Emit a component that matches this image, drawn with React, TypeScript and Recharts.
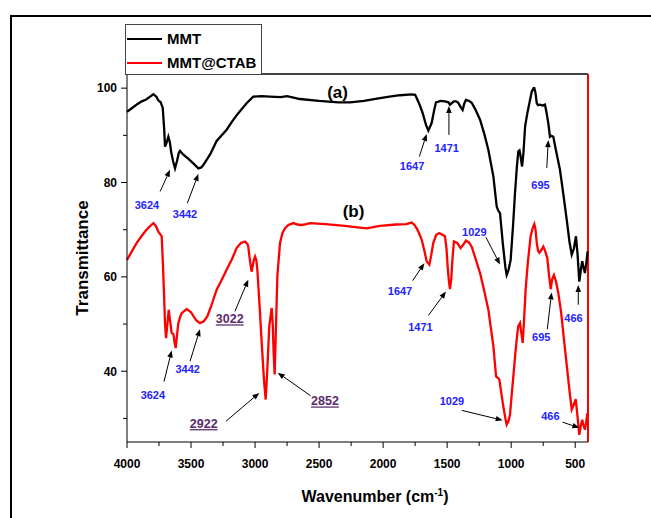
import React from "react";
import {
  LineChart,
  Line,
  XAxis,
  YAxis,
  ReferenceLine,
  ReferenceDot,
} from "recharts";

// MMT spectrum (black)
const mmtWave = [
  4000, 3960, 3920, 3885, 3850, 3820, 3794, 3770, 3755, 3737, 3721, 3710, 3703,
  3690, 3677, 3665, 3656, 3640, 3625, 3610, 3595, 3586, 3560, 3520, 3480, 3443,
  3420, 3404, 3350, 3300, 3222, 3180, 3131, 3066, 3014, 2950, 2884, 2800, 2750,
  2700, 2649, 2500, 2350, 2258, 2150, 2024, 1950, 1868, 1777, 1750, 1738, 1715,
  1691, 1665, 1647, 1621, 1600, 1587, 1550, 1517, 1490, 1478, 1465, 1447, 1430,
  1413, 1395, 1379, 1365, 1353, 1330, 1308, 1280, 1243, 1210, 1178, 1139, 1113,
  1100, 1087, 1065, 1045, 1035, 1020, 1004, 985, 970, 955, 944, 935, 926, 915,
  905, 891, 875, 858, 839, 825, 819, 810, 800, 790, 775, 755, 736, 725, 710, 697,
  685, 671, 650, 619, 595, 566, 545, 527, 510, 494, 482, 468, 456, 445, 435, 424,
  413, 403,
];
const mmtT = [
  95.0, 95.8, 96.6, 97.2, 97.6, 98.2, 98.7, 98.2, 97.4, 97.0, 95.8, 91.5, 87.6,
  88.5, 89.7, 88.5, 86.6, 84.5, 83.0, 84.5, 86.3, 86.7, 85.9, 85.0, 84.0, 83.0,
  83.2, 83.7, 86.0, 88.8, 91.2, 92.9, 94.7, 96.8, 98.2, 98.3, 98.2, 98.1, 98.3,
  98.0, 97.7, 97.3, 97.0, 97.0, 97.3, 97.9, 98.2, 98.5, 98.7, 98.6, 97.9, 96.5,
  94.7, 92.2, 91.0, 92.6, 95.5, 97.0, 97.3, 97.2, 97.0, 96.5, 96.8, 97.2, 97.2,
  96.9, 96.0, 95.4, 96.8, 97.5, 97.3, 96.9, 95.5, 93.3, 90.3, 86.9, 81.3, 74.9,
  74.0, 73.5, 67.0, 62.0, 60.4, 61.5, 63.6, 71.0, 77.8, 83.5, 86.6, 86.8, 85.5,
  83.4, 86.0, 91.9, 94.5, 96.8, 99.3, 100.0, 100.0, 99.0, 96.8, 96.4, 96.5,
  96.3, 96.5, 95.0, 92.6, 89.7, 89.9, 89.7, 86.8, 82.7, 78.0, 72.1, 67.5, 64.7,
  66.0, 68.6, 65.0, 59.0, 61.5, 63.3, 62.0, 60.8, 63.0, 65.4,
];

// MMT@CTAB spectrum (red)
const ctabWave = [
  4000, 3960, 3924, 3890, 3859, 3830, 3810, 3794, 3775, 3755, 3729, 3720, 3711,
  3703, 3695, 3685, 3674, 3665, 3651, 3638, 3628, 3620, 3610, 3599, 3585, 3573,
  3534, 3500, 3460, 3430, 3400, 3373, 3340, 3300, 3260, 3222, 3180, 3144, 3110,
  3079, 3060, 3053, 3040, 3027, 3010, 3000, 2990, 2982, 2965, 2948, 2930, 2917,
  2905, 2889, 2870, 2862, 2855, 2847, 2836, 2826, 2805, 2786, 2766, 2740, 2701,
  2670, 2636, 2600, 2571, 2450, 2300, 2200, 2128, 2024, 1900, 1820, 1777, 1755,
  1738, 1720, 1699, 1680, 1660, 1639, 1625, 1608, 1585, 1561, 1535, 1517, 1505,
  1496, 1486, 1478, 1468, 1459, 1447, 1421, 1395, 1375, 1353, 1330, 1308, 1280,
  1243, 1210, 1178, 1139, 1118, 1100, 1092, 1075, 1061, 1045, 1035, 1020, 1009,
  996, 983, 970, 957, 945, 931, 920, 910, 900, 887, 870, 848, 830, 819, 810, 800,
  790, 780, 762, 749, 735, 718, 705, 691, 680, 666, 650, 632, 610, 593, 562, 545,
  527, 510, 496, 482, 468, 456, 445, 435, 424, 415, 405,
];
const ctabT = [
  63.6, 65.5, 67.2, 68.5, 69.6, 70.5, 71.0, 71.4, 70.8, 69.6, 68.6, 63.0, 56.6,
  50.0, 47.0, 50.0, 53.0, 51.0, 48.1, 47.9, 46.0, 44.9, 47.5, 50.2, 51.5, 52.3,
  53.2, 52.5, 50.8, 50.2, 50.6, 51.6, 54.0, 57.3, 59.4, 61.5, 63.8, 66.1, 67.2,
  67.5, 67.0, 66.4, 63.5, 61.1, 63.5, 64.3, 63.5, 61.5, 54.0, 46.0, 38.0, 34.0,
  40.0, 49.5, 53.4, 50.0, 44.0, 39.3, 50.0, 60.1, 67.2, 69.3, 70.3, 71.0, 71.4,
  71.1, 71.0, 71.2, 71.4, 71.2, 70.8, 70.5, 70.3, 70.8, 71.1, 71.2, 71.5, 71.0,
  70.3, 69.3, 67.9, 65.8, 63.3, 62.6, 64.5, 67.2, 68.9, 69.3, 68.9, 68.6, 66.0,
  62.2, 59.0, 57.4, 59.5, 63.6, 67.5, 67.2, 66.1, 66.8, 67.7, 67.3, 66.4, 64.0,
  60.8, 57.0, 53.0, 45.3, 38.9, 38.5, 38.2, 35.0, 32.5, 30.0, 28.7, 29.5, 30.8,
  35.0, 38.9, 43.0, 46.7, 49.5, 50.2, 48.0, 46.0, 50.5, 57.3, 63.0, 68.6, 70.5,
  71.2, 70.0, 67.2, 65.5, 65.1, 65.8, 66.4, 65.5, 64.0, 60.5, 57.4, 59.5, 60.4,
  59.0, 56.6, 52.5, 48.1, 40.3, 36.0, 31.9, 33.0, 34.1, 30.5, 26.5, 28.5, 29.7,
  28.5, 27.6, 29.0, 31.1,
];

const xTicks = [4000, 3750, 3500, 3250, 3000, 2750, 2500, 2250, 2000, 1750, 1500, 1250, 1000, 750, 500];
const yTicks = [30, 40, 50, 60, 70, 80, 90, 100];

// peak labels: [wavenumber, transmittance, text]
const blueLabels: [number, number, string][] = [
  [3844, 75.3, "3624"],
  [3547, 73.3, "3442"],
  [1774, 83.4, "1647"],
  [1503, 87.4, "1471"],
  [771, 79.4, "695"],
  [1288, 69.6, "1029"],
  [513, 51.3, "466"],
  [3798, 35.0, "3624"],
  [3526, 40.4, "3442"],
  [1868, 56.9, "1647"],
  [1708, 49.3, "1471"],
  [765, 47.2, "695"],
  [1462, 33.7, "1029"],
  [694, 30.6, "466"],
];
const purpleLabels: [number, number, string][] = [
  [3198, 51.1, "3022"],
  [3401, 28.9, "2922"],
  [2454, 33.7, "2852"],
];
const curveLabels: [number, number, string][] = [
  [2356, 99.2, "(a)"],
  [2231, 73.9, "(b)"],
];
// arrows: [w1, t1, w2, t2] (tip at second point)
const arrows: [number, number, number, number][] = [
  [3741, 78.1, 3664, 82.7],
  [3529, 75.6, 3443, 81.8],
  [1717, 85.5, 1660, 90.3],
  [1486, 90.1, 1486, 96.2],
  [722, 83.1, 710, 89.0],
  [1197, 68.4, 1087, 62.6],
  [476, 54.1, 476, 58.3],
  [3711, 37.8, 3651, 44.4],
  [3508, 42.1, 3430, 48.9],
  [3157, 52.7, 3053, 59.4],
  [3227, 29.4, 2967, 35.4],
  [2566, 34.8, 2823, 39.7],
  [1769, 59.2, 1678, 62.9],
  [1647, 51.8, 1509, 56.9],
  [718, 48.9, 684, 56.7],
  [1386, 31.7, 1066, 29.6],
  [598, 29.2, 468, 28.0],
];

const mmtData = mmtWave.map((w, i) => ({ w, t: mmtT[i] }));
const ctabData = ctabWave.map((w, i) => ({ w, t: ctabT[i] }));

const FONT = "'Liberation Sans', Arial, sans-serif";

const XTick = (p: any) => {
  const v = p.payload.value;
  const major = v % 500 === 0;
  return (
    <g>
      <line x1={p.x} y1={p.y} x2={p.x} y2={p.y + (major ? 6 : 4)} stroke="#000" strokeWidth={1} />
      {major && (
        <text x={p.x} y={p.y + 26} textAnchor="middle" fontFamily={FONT} fontWeight="bold" fontSize={12} fill="#000">
          {v}
        </text>
      )}
    </g>
  );
};

const YTick = (p: any) => {
  const v = p.payload.value;
  const major = v % 20 === 0;
  return (
    <g>
      <line x1={p.x} y1={p.y} x2={p.x - (major ? 6 : 4)} y2={p.y} stroke="#000" strokeWidth={1} />
      {major && (
        <text x={p.x - 10} y={p.y} dy="0.36em" textAnchor="end" fontFamily={FONT} fontWeight="bold" fontSize={12} fill="#000">
          {v}
        </text>
      )}
    </g>
  );
};

const textShape = (text: string, color: string, size: number, underline = false) => (p: any) =>
  (
    <text
      x={p.cx}
      y={p.cy}
      dy="0.36em"
      textAnchor="middle"
      fontFamily={FONT}
      fontWeight="bold"
      fontSize={size}
      fill={color}
      textDecoration={underline ? "underline" : undefined}
    >
      {text}
    </text>
  );

const ArrowShape = (p: any) => {
  const { x1, y1, x2, y2 } = p;
  const a = Math.atan2(y2 - y1, x2 - x1);
  const L = 7;
  const W = 2.8;
  const bx = x2 - L * Math.cos(a);
  const by = y2 - L * Math.sin(a);
  const pts = `${x2},${y2} ${bx + W * Math.sin(a)},${by - W * Math.cos(a)} ${bx - W * Math.sin(a)},${by + W * Math.cos(a)}`;
  return (
    <g>
      <line x1={x1} y1={y1} x2={bx} y2={by} stroke="#000" strokeWidth={1} />
      <polygon points={pts} fill="#000" />
    </g>
  );
};

export default function App() {
  return (
    <div
      style={{
        position: "absolute",
        left: 0,
        top: 0,
        width: 651,
        height: 518,
        overflow: "hidden",
        background: "#fff",
        fontFamily: FONT,
      }}
    >
      <div
        style={{
          position: "absolute",
          left: 10,
          top: 15,
          width: 700,
          height: 600,
          border: "2px solid #000",
        }}
      />
      <div style={{ position: "absolute", left: 0, top: 0 }}>
        <LineChart width={651} height={518} margin={{ top: 74, right: 63, bottom: 46, left: 67 }}>
          <XAxis
            dataKey="w"
            type="number"
            domain={[400, 4000]}
            reversed
            ticks={xTicks}
            interval={0}
            tickSize={0}
            tickMargin={0}
            tickLine={false}
            tick={<XTick />}
            height={30}
            axisLine={{ stroke: "#000", strokeWidth: 1 }}
          />
          <YAxis
            type="number"
            domain={[25, 103]}
            ticks={yTicks}
            interval={0}
            tickSize={0}
            tickMargin={0}
            tickLine={false}
            tick={<YTick />}
            width={60}
            axisLine={{ stroke: "#000", strokeWidth: 1 }}
          />
          <ReferenceLine y={103} stroke="#000" strokeWidth={1.5} />
          <ReferenceLine x={400} stroke="#ff0000" strokeWidth={2} />
          <Line
            data={mmtData}
            dataKey="t"
            type="linear"
            stroke="#000000"
            strokeWidth={2.3}
            dot={false}
            activeDot={false}
            isAnimationActive={false}
          />
          <Line
            data={ctabData}
            dataKey="t"
            type="linear"
            stroke="#ff0000"
            strokeWidth={2.3}
            dot={false}
            activeDot={false}
            isAnimationActive={false}
          />
          {arrows.map(([w1, t1, w2, t2], i) => (
            <ReferenceLine
              key={"ar" + i}
              segment={[
                { x: w1, y: t1 },
                { x: w2, y: t2 },
              ]}
              shape={ArrowShape}
            />
          ))}
          {blueLabels.map(([w, t, s], i) => (
            <ReferenceDot key={"bl" + i} x={w} y={t} r={0} shape={textShape(s, "#2323ff", 11)} />
          ))}
          {purpleLabels.map(([w, t, s], i) => (
            <ReferenceDot key={"pl" + i} x={w} y={t} r={0} shape={textShape(s, "#5b2a6e", 12.5, true)} />
          ))}
          {curveLabels.map(([w, t, s], i) => (
            <ReferenceDot key={"cl" + i} x={w} y={t} r={0} shape={textShape(s, "#000", 17)} />
          ))}
        </LineChart>
      </div>

      {/* legend */}
      <div
        style={{
          position: "absolute",
          left: 125,
          top: 24,
          width: 135,
          height: 49,
          border: "1px solid #444",
          background: "#fff",
        }}
      >
        {[
          ["MMT", "#000"],
          ["MMT@CTAB", "#ff0000"],
        ].map(([name, color], i) => (
          <div key={name} style={{ position: "absolute", left: 1, top: 6 + i * 24, height: 16, display: "flex", alignItems: "center" }}>
            <div style={{ width: 35, height: 2, background: color }} />
            <span style={{ marginLeft: 5, fontWeight: "bold", fontSize: 15, color: "#000", lineHeight: "16px" }}>{name}</span>
          </div>
        ))}
      </div>

      {/* axis titles */}
      <div
        style={{
          position: "absolute",
          left: 275,
          width: 200,
          top: 483,
          textAlign: "center",
          fontWeight: "bold",
          fontSize: 16,
          lineHeight: "20px",
        }}
      >
        Wavenumber (cm<sup style={{ fontSize: 10 }}>-1</sup>)
      </div>
      <div
        style={{
          position: "absolute",
          left: 83,
          top: 258,
          transform: "translate(-50%, -50%) rotate(-90deg)",
          fontWeight: "bold",
          fontSize: 17,
          whiteSpace: "nowrap",
        }}
      >
        Transmittance
      </div>
    </div>
  );
}
